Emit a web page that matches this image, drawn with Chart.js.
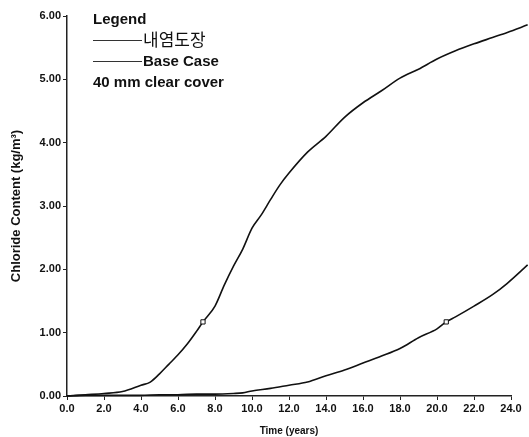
<!DOCTYPE html>
<html><head><meta charset="utf-8">
<script src="https://cdn.jsdelivr.net/npm/chart.js@4/dist/chart.umd.min.js"></script>
<style>html,body{margin:0;padding:0;background:#fff}#wrap{width:529px;height:437px;position:relative}</style>
</head><body><div id="wrap"><canvas id="c" width="529" height="437"></canvas></div>
<script>
const legendTitle = "Legend";
const seriesNames = ["내염도장", "Base Case"];
const legendNote = "40 mm clear cover";
const xTitle = "Time (years)";
const yTitle = "Chloride Content (kg/m³)";
const xTicks = [0,2,4,6,8,10,12,14,16,18,20,22,24];
const yTicks = [0,1,2,3,4,5,6];

const baseX = [0,1,2,3,4,4.5,5,5.5,6,6.5,7,7.35,8,8.5,9,9.5,10,10.5,11,11.5,12,13,14,15,16,17,18,19,20,21,22,23,23.8,24.9];
const baseY = [0,0.02,0.04,0.07,0.17,0.22,0.35,0.5,0.65,0.82,1.02,1.17,1.42,1.75,2.05,2.32,2.65,2.86,3.1,3.33,3.52,3.85,4.1,4.4,4.63,4.82,5.02,5.16,5.32,5.45,5.56,5.66,5.74,5.86];
const baseMarkerX = 7.35;

const coatX = [0,1,2,3,4,5,6,7,8,9,9.5,10,11,12,13,14,15,16,17,18,19,20,20.5,21,22,23,23.8,24.9];
const coatY = [0,0.01,0.01,0.01,0.01,0.02,0.02,0.03,0.03,0.04,0.05,0.08,0.12,0.17,0.22,0.32,0.41,0.52,0.63,0.75,0.92,1.06,1.17,1.25,1.42,1.6,1.78,2.07];
const coatMarkerX = 20.5;

function pts(xs, ys){ return xs.map((x,i)=>({x:x,y:ys[i]})); }
function radii(xs, mx){ return xs.map(x => x===mx ? 3 : 0); }

const FONT = "'Liberation Sans', Arial, sans-serif";

const legendPlugin = {
  id: 'legendText',
  afterDraw(chart){
    const ctx = chart.ctx;
    ctx.save();
    ctx.fillStyle = '#111';
    ctx.strokeStyle = '#333';
    ctx.lineWidth = 1;
    ctx.textBaseline = 'middle';
    ctx.font = "bold 15px " + FONT;
    ctx.fillText(legendTitle, 93, 20);
    ctx.beginPath(); ctx.moveTo(93, 40.5); ctx.lineTo(142, 40.5); ctx.stroke();
    ctx.font = "17px 'Noto Sans CJK KR', sans-serif";
    ctx.fillText(seriesNames[0], 143, 40);
    ctx.beginPath(); ctx.moveTo(93, 61.5); ctx.lineTo(142, 61.5); ctx.stroke();
    ctx.font = "bold 15px " + FONT;
    ctx.fillText(seriesNames[1], 143, 62);
    ctx.fillText(legendNote, 93, 83);
    ctx.restore();
  }
};

new Chart(document.getElementById('c'), {
  type: 'line',
  data: {
    datasets: [
      { label: seriesNames[1], data: pts(baseX, baseY), borderColor:'#111', borderWidth:1.6,
        pointRadius: radii(baseX, baseMarkerX), pointStyle:'rect', pointBackgroundColor:'#fff',
        pointBorderColor:'#111', pointBorderWidth:1, tension:0.3, cubicInterpolationMode:'monotone', clip:false },
      { label: seriesNames[0], data: pts(coatX, coatY), borderColor:'#111', borderWidth:1.6,
        pointRadius: radii(coatX, coatMarkerX), pointStyle:'rect', pointBackgroundColor:'#fff',
        pointBorderColor:'#111', pointBorderWidth:1, tension:0.3, cubicInterpolationMode:'monotone', clip:false }
    ]
  },
  options: {
    responsive:false, animation:false,
    layout:{ padding:{ top:16, right:18, left:0, bottom:0 } },
    plugins:{ legend:{display:false}, tooltip:{enabled:false} },
    scales:{
      x:{ type:'linear', min:0, max:24,
        afterBuildTicks(s){ s.ticks = xTicks.map(v=>({value:v})); },
        afterFit(s){ s.height = 41; },
        ticks:{ color:'#111', font:{family:FONT, size:11, weight:'bold'}, padding:2, maxRotation:0,
          callback:v=>Number(v).toFixed(1) },
        grid:{ drawOnChartArea:false, color:'#222', tickLength:4, lineWidth:1 },
        border:{ color:'#222', width:1.5 },
        title:{ display:true, text:xTitle, color:'#111', font:{family:FONT, size:10, weight:'bold'}, padding:{top:4,bottom:0} }
      },
      y:{ min:0, max:6,
        afterBuildTicks(s){ s.ticks = yTicks.map(v=>({value:v})); },
        afterFit(s){ s.width = 67; },
        ticks:{ color:'#111', font:{family:FONT, size:11, weight:'bold'}, padding:2,
          callback:v=>Number(v).toFixed(2) },
        grid:{ drawOnChartArea:false, color:'#222', tickLength:4, lineWidth:1 },
        border:{ color:'#222', width:1.5 },
        title:{ display:true, text:yTitle, color:'#111', font:{family:FONT, size:13, weight:'bold'}, padding:{top:9,bottom:4} }
      }
    }
  },
  plugins:[legendPlugin]
});
</script></body></html>
